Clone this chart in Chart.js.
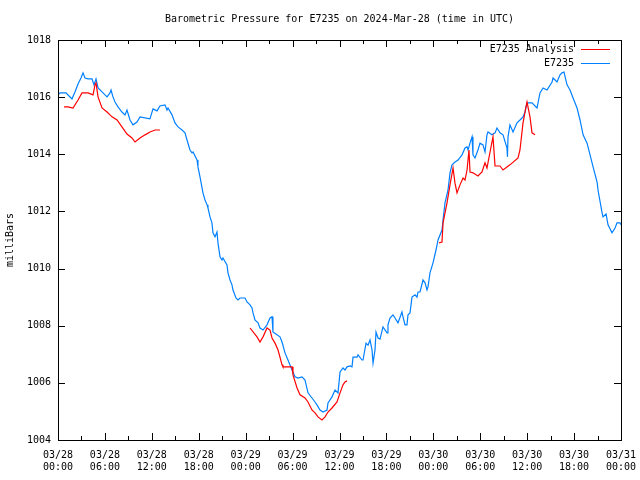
<!DOCTYPE html>
<html>
<head>
<meta charset="utf-8">
<script src="https://cdn.jsdelivr.net/npm/chart.js@4"></script>
<style>
  body { margin: 0; background: #fff; }
  canvas { display: block; }
</style>
</head>
<body>
<canvas id="pressureChart" width="640" height="480"></canvas>
<script>
// Data (hours since 2024-03-28 00:00 UTC, millibars) ------------------------

const titleText = 'Barometric Pressure for E7235 on 2024-Mar-28 (time in UTC)';
const yTitle = 'milliBars';
const yTicks = [1004, 1006, 1008, 1010, 1012, 1014, 1016, 1018];

const stationHours = [0,0.26,1.02,1.41,1.79,2.17,2.56,2.94,3.20,3.45,3.84,4.35,4.60,4.86,5.12,5.76,6.27,6.65,6.78,7.03,7.29,7.67,8.18,8.57,8.82,9.21,9.59,10.10,10.49,11.76,12.15,12.66,13.04,13.68,13.94,14.07,14.58,14.96,15.35,15.86,16.24,16.50,16.88,17.14,17.27,17.78,17.90,18.16,18.54,18.80,19.06,19.18,19.44,19.69,19.82,20.08,20.33,20.46,20.72,20.97,21.10,21.61,21.74,22.0,22.25,22.38,22.76,23.02,23.28,23.92,24.17,24.56,24.81,24.94,25.19,25.58,25.83,26.22,26.73,27.11,27.37,27.49,28.0,28.39,28.65,29.03,29.41,29.93,30.31,30.69,31.21,31.59,31.97,32.48,32.87,33.12,33.51,33.89,34.40,34.53,35.04,35.43,35.81,36.07,36.45,36.70,36.96,37.34,37.60,37.73,38.24,38.37,38.88,39.01,39.39,39.65,39.90,40.16,40.29,40.54,40.67,40.93,41.18,41.56,42.08,42.20,42.46,42.84,43.10,43.48,43.99,44.12,44.38,44.63,44.76,45.02,45.27,45.66,45.91,46.04,46.30,46.68,46.94,47.19,47.32,47.57,47.96,48.34,48.60,49.11,49.24,49.49,49.88,50.13,50.39,50.77,51.16,51.67,52.05,52.31,52.44,52.69,52.95,53.07,53.33,53.71,53.97,54.35,54.61,54.86,54.99,55.50,55.89,56.14,56.53,56.91,57.42,57.48,57.55,57.80,58.19,58.70,59.08,59.47,59.72,59.98,60.62,61.26,61.64,62.03,62.54,63.18,63.31,63.82,64.20,64.46,64.71,65.10,65.48,65.87,66.38,66.76,67.15,67.66,68.04,68.43,68.94,69.06,69.58,69.70,70.09,70.34,70.85,71.24,71.49,71.88,72.0];
const stationPressure = [1016.08,1016.15,1016.15,1016.04,1015.94,1016.18,1016.46,1016.67,1016.85,1016.67,1016.64,1016.64,1016.43,1016.64,1016.32,1016.15,1016.01,1016.15,1016.25,1016.01,1015.83,1015.66,1015.48,1015.38,1015.55,1015.20,1015.03,1015.13,1015.31,1015.24,1015.59,1015.52,1015.69,1015.73,1015.55,1015.62,1015.38,1015.10,1014.96,1014.85,1014.75,1014.50,1014.15,1014.05,1014.08,1013.80,1013.56,1013.21,1012.65,1012.40,1012.23,1012.12,1011.81,1011.60,1011.25,1011.11,1011.28,1010.90,1010.41,1010.30,1010.37,1010.13,1009.85,1009.60,1009.43,1009.25,1008.97,1008.90,1008.97,1008.97,1008.83,1008.73,1008.62,1008.45,1008.20,1008.10,1007.92,1007.85,1008.03,1008.27,1008.31,1007.78,1007.68,1007.61,1007.43,1007.05,1006.80,1006.45,1006.21,1006.17,1006.21,1006.10,1005.65,1005.47,1005.33,1005.23,1005.05,1004.98,1005.05,1005.30,1005.51,1005.75,1005.65,1006.38,1006.52,1006.45,1006.56,1006.59,1006.56,1006.90,1006.90,1006.98,1006.80,1006.80,1007.39,1007.32,1007.50,1007.15,1006.69,1007.15,1007.78,1007.57,1007.53,1007.96,1007.75,1008.03,1008.27,1008.38,1008.27,1008.10,1008.48,1008.31,1008.03,1008.03,1008.38,1008.45,1009.0,1009.08,1009.0,1009.18,1009.18,1009.60,1009.50,1009.25,1009.36,1009.85,1010.20,1010.65,1011.0,1011.35,1011.70,1012.30,1012.75,1013.35,1013.63,1013.73,1013.80,1013.98,1014.22,1014.26,1014.15,1014.39,1014.61,1013.98,1013.87,1014.15,1014.39,1014.33,1014.08,1014.68,1014.78,1014.68,1014.75,1014.92,1014.75,1014.68,1014.22,1013.91,1014.61,1015.03,1014.78,1015.10,1015.20,1015.31,1015.48,1015.80,1015.80,1015.62,1016.15,1016.32,1016.25,1016.53,1016.67,1016.53,1016.78,1016.85,1016.88,1016.43,1016.25,1015.97,1015.62,1015.20,1014.68,1014.39,1013.98,1013.56,1013.03,1012.75,1011.95,1011.81,1011.91,1011.53,1011.25,1011.42,1011.60,1011.60,1011.53];

// analysis runs, null pressure = gap between runs
const analysisHours = [0.77,1.28,1.92,2.56,3.07,3.84,4.48,4.73,4.86,5.12,5.63,6.27,6.91,7.55,8.18,8.82,9.46,9.85,10.49,11.13,11.77,12.41,13.04,
  20,
  24.56,25.45,25.83,26.22,26.73,27.11,27.37,27.75,28.14,28.65,28.77,29.93,30.05,30.57,30.95,31.59,31.97,32.48,32.87,33.25,33.76,34.15,34.53,35.04,35.68,36.07,36.45,36.70,36.96,
  42,
  48.73,49.11,49.24,49.75,50.13,50.52,50.77,51.03,51.41,51.80,52.05,52.31,52.56,52.69,53.07,53.71,54.22,54.61,54.86,55.25,55.63,55.89,56.53,56.91,57.80,58.83,59.08,59.47,59.85,59.98,60.36,60.62,61.0];
const analysisPressure = [1015.66,1015.66,1015.62,1015.90,1016.15,1016.15,1016.08,1016.43,1016.50,1016.01,1015.62,1015.48,1015.31,1015.20,1014.96,1014.71,1014.57,1014.43,1014.57,1014.68,1014.78,1014.85,1014.85,
  null,
  1007.92,1007.61,1007.43,1007.61,1007.92,1007.85,1007.57,1007.39,1007.15,1006.63,1006.56,1006.56,1006.28,1005.82,1005.58,1005.47,1005.33,1005.05,1004.95,1004.81,1004.70,1004.81,1004.98,1005.12,1005.33,1005.65,1005.93,1006.03,1006.07,
  null,
  1010.90,1010.93,1011.60,1012.30,1012.93,1013.52,1012.99,1012.65,1012.93,1013.17,1013.10,1013.45,1014.15,1013.38,1013.35,1013.24,1013.38,1013.70,1013.52,1014.08,1014.61,1013.59,1013.59,1013.45,1013.63,1013.87,1014.15,1015.10,1015.66,1015.83,1015.31,1014.75,1014.68];

const FONT_FAMILY = '"DejaVu Sans Mono", "Liberation Mono", monospace';
const FONT = '10px ' + FONT_FAMILY;

function toPoints(hours, values) {
  return hours.map((h, i) => ({ x: h, y: values[i] }));
}

function hourLabel(v) {
  const day = 28 + Math.floor(v / 24);
  const hh = v % 24;
  return ['03/' + day, (hh < 10 ? '0' : '') + hh + ':00'];
}

// gnuplot look: frame, inward ticks, title, legend ------------------------

const gnuplotFrame = {
  id: 'gnuplotFrame',
  afterDatasetsDraw(chart) {
    const ctx = chart.ctx;
    const a = chart.chartArea;
    const xs = chart.scales.x;
    const ys = chart.scales.y;
    ctx.save();
    ctx.strokeStyle = '#000';
    ctx.lineWidth = 1;
    ctx.strokeRect(Math.round(a.left) + 0.5, Math.round(a.top) + 0.5,
      Math.round(a.right - a.left), Math.round(a.bottom - a.top));

    ctx.beginPath();
    xs.ticks.forEach(t => {
      const px = Math.round(xs.getPixelForValue(t.value)) + 0.5;
      const len = t.value % 6 === 0 ? 7 : 4;
      ctx.moveTo(px, a.bottom); ctx.lineTo(px, a.bottom - len);
      ctx.moveTo(px, a.top); ctx.lineTo(px, a.top + len);
    });
    ys.ticks.forEach(t => {
      const py = Math.round(ys.getPixelForValue(t.value)) + 0.5;
      ctx.moveTo(a.left, py); ctx.lineTo(a.left + 7, py);
      ctx.moveTo(a.right, py); ctx.lineTo(a.right - 7, py);
    });
    ctx.stroke();

    // title
    ctx.fillStyle = '#000';
    ctx.font = FONT;
    ctx.textAlign = 'center';
    ctx.textBaseline = 'middle';
    ctx.fillText(titleText, (a.left + a.right) / 2, 19);

    // y axis title
    ctx.save();
    ctx.translate(10, (a.top + a.bottom) / 2);
    ctx.rotate(-Math.PI / 2);
    ctx.fillText(yTitle, 0, 0);
    ctx.restore();

    // legend, top right inside the plot
    chart.data.datasets.forEach((ds, i) => {
      const y = a.top + 9 + i * 14;
      ctx.textAlign = 'right';
      ctx.fillStyle = '#000';
      ctx.fillText(ds.label, a.right - 47, y);
      ctx.beginPath();
      ctx.strokeStyle = ds.borderColor;
      ctx.lineWidth = 1;
      ctx.moveTo(a.right - 40, Math.round(y) + 0.5);
      ctx.lineTo(a.right - 11, Math.round(y) + 0.5);
      ctx.stroke();
    });
    ctx.restore();
  }
};

// chart -------------------------------------------------------------------

const config = {
  type: 'line',
  data: {
    datasets: [{
      label: 'E7235 Analysis',
      data: toPoints(analysisHours, analysisPressure),
      borderColor: 'rgb(255, 0, 0)',
      borderWidth: 1.2,
      pointRadius: 0,
      spanGaps: false
    }, {
      label: 'E7235',
      data: toPoints(stationHours, stationPressure),
      borderColor: 'rgb(0, 128, 255)',
      borderWidth: 1.2,
      pointRadius: 0
    }]
  },
  options: {
    responsive: false,
    animation: false,
    layout: { padding: { left: 0, right: 19, top: 40, bottom: 0 } },
    plugins: {
      legend: { display: false },
      title: { display: false },
      tooltip: { enabled: false }
    },
    scales: {
      x: {
        type: 'linear',
        min: 0,
        max: 72,
        grid: { display: false, drawTicks: false },
        border: { display: false },
        afterFit: s => { s.height = 40; s.paddingLeft = 0; s.paddingRight = 0; },
        ticks: {
          stepSize: 3,
          maxTicksLimit: 100,
          autoSkip: false,
          maxRotation: 0,
          padding: 9,
          color: '#000',
          font: { family: FONT_FAMILY, size: 10, lineHeight: 1.2 },
          callback: v => (v % 6 === 0 ? hourLabel(v) : '')
        }
      },
      y: {
        min: 1004,
        max: 1018,
        grid: { display: false, drawTicks: false },
        border: { display: false },
        afterFit: s => { s.width = 58; s.paddingTop = 0; s.paddingBottom = 0; },
        afterBuildTicks: s => { s.ticks = yTicks.map(v => ({ value: v })); },
        ticks: {
          padding: 7,
          color: '#000',
          font: { family: FONT_FAMILY, size: 10 },
          callback: v => String(v)
        }
      }
    }
  },
  plugins: [gnuplotFrame]
};

const pressureChart = new Chart(document.getElementById('pressureChart'), config);
</script>
</body>
</html>
